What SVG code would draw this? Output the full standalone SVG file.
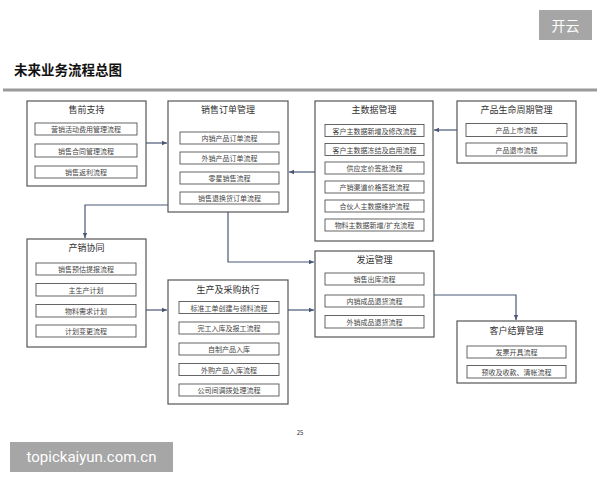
<svg xmlns="http://www.w3.org/2000/svg" width="600" height="480" viewBox="0 0 600 480">
<style>
text{font-family:"Noto Sans CJK SC","Liberation Sans",sans-serif;}
.outer{fill:#fff;stroke:#555;stroke-width:1.2;}
.inner{fill:#fff;stroke:#555;stroke-width:0.9;}
.t{font-size:9px;fill:#333;text-anchor:middle;dominant-baseline:central;}
.s{font-size:7px;fill:#444;text-anchor:middle;dominant-baseline:central;}
.c{fill:none;stroke:#4a5878;stroke-width:1.2;marker-end:url(#a);}
</style>
<defs>
<marker id="a" markerWidth="6" markerHeight="6" refX="5" refY="3" orient="auto" markerUnits="userSpaceOnUse">
<path d="M0,0.8 L5,3 L0,5.2 Z" fill="#4a5878"/>
</marker>
</defs>
<rect width="600" height="480" fill="#fff"/>
<rect x="539" y="10" width="53" height="30" fill="#a6a6a6"/>
<text x="565.5" y="25" font-size="14" fill="#fff" text-anchor="middle" dominant-baseline="central">开云</text>
<text x="14" y="75" font-size="13.5" font-weight="bold" fill="#111">未来业务流程总图</text>
<rect x="3" y="88.5" width="594" height="3" fill="#9a9a9a"/>

<g id="connectors">
<path class="c" d="M146,143 H167"/>
<path class="c" d="M457,130 H434"/>
<path class="c" d="M315,172 H289"/>
<path class="c" d="M168,205 H85 V238"/>
<path class="c" d="M228,212 V262 H314"/>
<path class="c" d="M146,310 H167"/>
<path class="c" d="M288,310 H314"/>
<path class="c" d="M434,295 H516 V320"/>
</g>

<g id="n1">
<rect class="outer" x="27" y="101" width="119" height="85"/>
<text class="t" x="86.5" y="109">售前支持</text>
<rect class="inner" x="35" y="123" width="102" height="12"/>
<text class="s" x="86" y="129">营销活动费用管理流程</text>
<rect class="inner" x="35" y="144" width="102" height="13"/>
<text class="s" x="86" y="150.5">销售合同管理流程</text>
<rect class="inner" x="35" y="166" width="102" height="12"/>
<text class="s" x="86" y="172">销售返利流程</text>
</g>

<g id="n2">
<rect class="outer" x="168" y="101" width="120" height="111"/>
<text class="t" x="228" y="109">销售订单管理</text>
<rect class="inner" x="180" y="132" width="99" height="12"/>
<text class="s" x="229.5" y="138">内销产品订单流程</text>
<rect class="inner" x="180" y="152" width="99" height="12"/>
<text class="s" x="229.5" y="158">外销产品订单流程</text>
<rect class="inner" x="180" y="172" width="99" height="12"/>
<text class="s" x="229.5" y="178">零星销售流程</text>
<rect class="inner" x="180" y="192" width="99" height="12"/>
<text class="s" x="229.5" y="198">销售退换货订单流程</text>
</g>

<g id="n3">
<rect class="outer" x="315" y="101" width="118" height="140"/>
<text class="t" x="374" y="109">主数据管理</text>
<rect class="inner" x="325" y="124.5" width="99" height="12"/>
<text class="s" x="374.5" y="130.5">客户主数据新增及修改流程</text>
<rect class="inner" x="325" y="143.5" width="99" height="12"/>
<text class="s" x="374.5" y="149.5">客户主数据冻结及启用流程</text>
<rect class="inner" x="325" y="162" width="99" height="12"/>
<text class="s" x="374.5" y="168">供应定价签批流程</text>
<rect class="inner" x="325" y="181" width="99" height="12"/>
<text class="s" x="374.5" y="187">产销渠道价格签批流程</text>
<rect class="inner" x="325" y="200" width="99" height="12"/>
<text class="s" x="374.5" y="206">合伙人主数据维护流程</text>
<rect class="inner" x="325" y="219" width="99" height="12"/>
<text class="s" x="374.5" y="225">物料主数据新增/扩充流程</text>
</g>

<g id="n4">
<rect class="outer" x="457" y="101" width="119" height="62"/>
<text class="t" x="516.5" y="109">产品生命周期管理</text>
<rect class="inner" x="466" y="123.5" width="101" height="13"/>
<text class="s" x="516.5" y="130">产品上市流程</text>
<rect class="inner" x="466" y="143" width="101" height="13"/>
<text class="s" x="516.5" y="149.5">产品退市流程</text>
</g>

<g id="n5">
<rect class="outer" x="27" y="239" width="119" height="108"/>
<text class="t" x="86.5" y="247">产销协同</text>
<rect class="inner" x="36" y="263" width="100" height="12"/>
<text class="s" x="86" y="269">销售预估提报流程</text>
<rect class="inner" x="36" y="283.5" width="100" height="12.5"/>
<text class="s" x="86" y="289.5">主生产计划</text>
<rect class="inner" x="36" y="304.5" width="100" height="12.5"/>
<text class="s" x="86" y="310.5">物料需求计划</text>
<rect class="inner" x="36" y="325" width="100" height="12"/>
<text class="s" x="86" y="331">计划变更流程</text>
</g>

<g id="n6">
<rect class="outer" x="168" y="280" width="120" height="124"/>
<text class="t" x="228" y="289">生产及采购执行</text>
<rect class="inner" x="179" y="301.5" width="100" height="12"/>
<text class="s" x="229" y="307.5">标准工单创建与领料流程</text>
<rect class="inner" x="179" y="322" width="100" height="12"/>
<text class="s" x="229" y="328">完工入库及报工流程</text>
<rect class="inner" x="179" y="343" width="100" height="12"/>
<text class="s" x="229" y="349">自制产品入库</text>
<rect class="inner" x="179" y="363.5" width="100" height="12"/>
<text class="s" x="229" y="369.5">外购产品入库流程</text>
<rect class="inner" x="179" y="384" width="100" height="12"/>
<text class="s" x="229" y="390">公司间调拨处理流程</text>
</g>

<g id="n7">
<rect class="outer" x="315" y="251" width="119" height="86"/>
<text class="t" x="374.5" y="259">发运管理</text>
<rect class="inner" x="325" y="273" width="99" height="12"/>
<text class="s" x="374.5" y="279">销售出库流程</text>
<rect class="inner" x="325" y="295" width="99" height="12"/>
<text class="s" x="374.5" y="301">内销成品退货流程</text>
<rect class="inner" x="325" y="315.5" width="99" height="12.5"/>
<text class="s" x="374.5" y="321.5">外销成品退货流程</text>
</g>

<g id="n8">
<rect class="outer" x="457" y="321" width="119" height="62"/>
<text class="t" x="516.5" y="330">客户结算管理</text>
<rect class="inner" x="467" y="346" width="99" height="12"/>
<text class="s" x="516.5" y="352">发票开具流程</text>
<rect class="inner" x="467" y="365.5" width="99" height="12.5"/>
<text class="s" x="516.5" y="371.5">预收及收款、清帐流程</text>
</g>

<text x="300" y="432" font-size="6" fill="#333" text-anchor="middle" dominant-baseline="central">25</text>
<rect x="10" y="442" width="163" height="30" fill="#a6a6a6"/>
<text x="91.5" y="457" font-size="15" fill="#fff" text-anchor="middle" dominant-baseline="central" style="font-family:'Roboto','Liberation Sans',sans-serif">topickaiyun.com.cn</text>
</svg>
